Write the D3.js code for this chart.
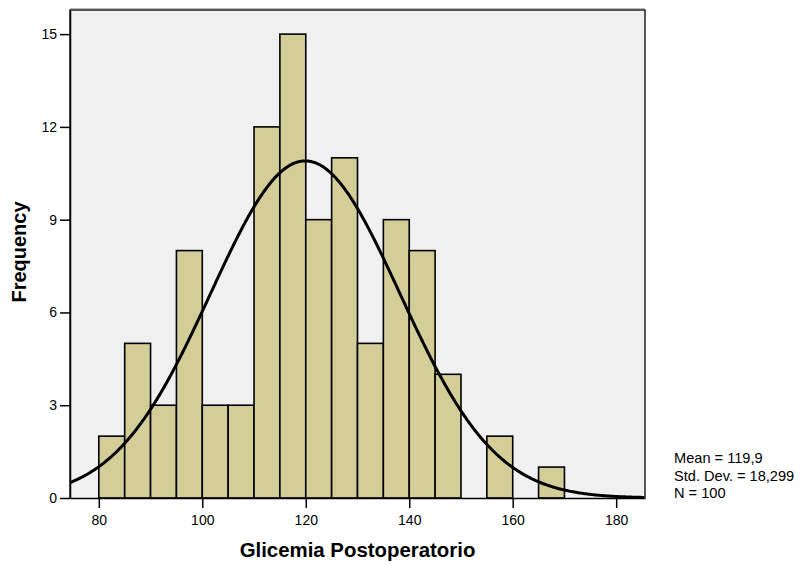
<!DOCTYPE html>
<html><head><meta charset="utf-8">
<script src="https://cdn.jsdelivr.net/npm/d3@7"></script>
<style>body{margin:0;background:#fff}svg{display:block}text{font-family:"Liberation Sans",Arial,sans-serif}</style>
</head><body><svg id="c" width="801" height="565"></svg>
<script>
const binStarts = [80,85,90,95,100,105,110,115,120,125,130,135,140,145,150,155,160,165];
const counts    = [2,5,3,8,3,3,12,15,9,11,5,9,8,4,0,2,0,1];
const binWidth = 5;
const xTicks = [80,100,120,140,160,180];
const yTicks = [0,3,6,9,12,15];
const statsLabels = ["Mean = 119,9","Std. Dev. = 18,299","N = 100"];
const mean = 119.9, sd = 18.299, n = 100;

const svg = d3.select("#c");
const L=70, R=645, T=10, B=498;
const x = d3.scaleLinear().domain([74.43,185.57]).range([L,R]);
const y = d3.scaleLinear().domain([0,15.78]).range([B,T]);

svg.append("rect").attr("x",L).attr("y",T).attr("width",R-L).attr("height",B-T).attr("fill","#f0f0f0");

const data = binStarts.map((s,i)=>({s,c:counts[i]})).filter(d=>d.c>0);
svg.append("g").selectAll("rect").data(data).join("rect")
  .attr("x",d=>x(d.s)).attr("y",d=>y(d.c))
  .attr("width",d=>x(d.s+binWidth)-x(d.s)).attr("height",d=>y(0)-y(d.c))
  .attr("fill","#d3ce98").attr("stroke","#000").attr("stroke-width",1.6);

const pts = d3.range(x.domain()[0], x.domain()[1]+0.01, 0.25).map(v=>[v, n*binWidth*Math.exp(-0.5*((v-mean)/sd)**2)/(sd*Math.sqrt(2*Math.PI))]);
svg.append("path").datum(pts).attr("fill","none").attr("stroke","#000").attr("stroke-width",3)
  .attr("d",d3.line().x(d=>x(d[0])).y(d=>y(d[1])));

// frame
svg.append("path").attr("d",`M${L},${B}V${T}H${R}V${B}`).attr("fill","none").attr("stroke","#222").attr("stroke-width",1.5);
svg.append("line").attr("x1",L).attr("x2",R).attr("y1",T-1.5).attr("y2",T-1.5).attr("stroke","#bbb").attr("stroke-width",1);

const xa = svg.append("g").attr("transform",`translate(0,${B})`)
  .call(d3.axisBottom(x).tickValues(xTicks).tickSize(10).tickPadding(7).tickSizeOuter(0));
const ya = svg.append("g").attr("transform",`translate(${L},0)`)
  .call(d3.axisLeft(y).tickValues(yTicks).tickSize(10).tickPadding(3).tickSizeOuter(0));
[xa,ya].forEach(a=>{
  a.select(".domain").attr("stroke","#000").attr("stroke-width",1.5);
  a.selectAll(".tick line").attr("stroke","#000").attr("stroke-width",1.5);
  a.selectAll("text").attr("font-size",14).attr("fill","#000").style("font-family","Liberation Sans, Arial, sans-serif");
});

svg.append("text").attr("x",(L+R)/2).attr("y",557).attr("text-anchor","middle")
  .attr("font-size",20.4).attr("font-weight","bold").text("Glicemia Postoperatorio");
svg.append("text").attr("transform","translate(25.5,252) rotate(-90)").attr("text-anchor","middle")
  .attr("font-size",20).attr("font-weight","bold").text("Frequency");

svg.append("g").selectAll("text").data(statsLabels).join("text")
  .attr("x",674).attr("y",(d,i)=>[463,481,498][i]).attr("font-size",14.6).text(d=>d);
</script></body></html>
